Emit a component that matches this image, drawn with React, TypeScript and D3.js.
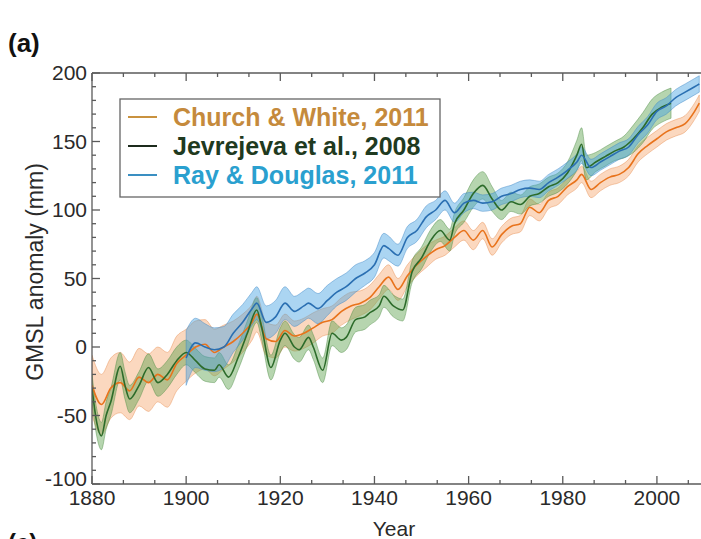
import React, { useEffect, useRef } from 'react';
import * as d3 from 'd3';

// [year, mean GMSL (mm), half-width of the uncertainty band (mm)]
type Pt = [number, number, number];

const churchWhite: Pt[] = [
  [1880, -28, 22], [1882, -42, 22], [1884, -30, 22], [1886, -26, 22], [1888, -32, 21],
  [1890, -22, 21], [1892, -26, 21], [1894, -20, 20], [1896, -24, 20], [1898, -12, 20],
  [1900, -6, 19], [1902, 0, 19], [1904, 2, 18], [1906, -4, 17], [1908, 0, 16],
  [1910, 4, 15], [1912, 10, 14], [1914, 18, 13], [1915, 24, 13], [1917, 6, 12],
  [1919, 4, 12], [1921, 12, 12], [1923, 8, 11], [1925, 10, 11], [1927, 14, 11],
  [1929, 18, 10], [1931, 20, 10], [1933, 26, 10], [1935, 30, 10], [1937, 32, 9],
  [1939, 36, 9], [1941, 44, 9], [1943, 51, 9], [1945, 42, 8], [1947, 52, 8],
  [1949, 60, 8], [1951, 66, 8], [1953, 71, 7], [1955, 74, 7], [1957, 80, 7],
  [1959, 85, 7], [1961, 78, 7], [1963, 85, 6], [1965, 73, 6], [1967, 82, 6],
  [1969, 88, 6], [1971, 90, 6], [1973, 102, 6], [1975, 98, 6], [1977, 107, 6],
  [1979, 110, 6], [1981, 117, 6], [1983, 122, 6], [1984, 126, 6], [1986, 115, 6],
  [1988, 120, 6], [1990, 124, 6], [1992, 126, 6], [1994, 131, 6], [1996, 141, 6],
  [1998, 147, 6], [2000, 152, 6], [2002, 157, 6], [2004, 160, 6], [2006, 163, 6],
  [2008, 172, 6], [2009, 178, 6],
];

const jevrejeva: Pt[] = [
  [1880, -30, 10], [1881, -55, 10], [1882, -65, 10], [1883, -50, 10], [1884, -40, 10],
  [1886, -14, 10], [1887, -28, 10], [1888, -38, 10], [1890, -28, 10], [1892, -15, 10],
  [1894, -26, 10], [1896, -20, 10], [1898, -10, 10], [1900, -4, 9], [1902, -10, 9],
  [1904, -16, 9], [1906, -17, 9], [1907, -13, 9], [1909, -22, 9], [1911, -8, 9],
  [1913, 10, 9], [1915, 27, 9], [1916, 15, 9], [1918, -15, 9], [1920, 5, 9],
  [1921, 10, 9], [1923, 0, 9], [1924, -2, 9], [1926, 7, 9], [1927, 0, 9],
  [1929, -17, 9], [1931, 10, 9], [1933, 5, 9], [1934, 7, 9], [1936, 20, 9],
  [1938, 22, 9], [1939, 25, 9], [1941, 30, 8], [1942, 37, 8], [1944, 30, 8],
  [1946, 27, 8], [1948, 55, 8], [1950, 65, 8], [1952, 78, 8], [1954, 85, 8],
  [1956, 78, 8], [1957, 90, 8], [1959, 100, 9], [1961, 112, 10], [1963, 118, 10],
  [1965, 108, 9], [1967, 100, 7], [1969, 106, 7], [1971, 104, 7], [1973, 110, 7],
  [1975, 112, 7], [1977, 117, 7], [1979, 120, 7], [1981, 127, 8], [1983, 140, 11],
  [1984, 148, 12], [1985, 131, 9], [1987, 135, 7], [1989, 139, 7], [1991, 143, 7],
  [1993, 146, 8], [1995, 152, 10], [1997, 160, 11], [1999, 170, 11], [2001, 175, 11],
  [2003, 178, 11],
];

const rayDouglas: Pt[] = [
  [1900, -8, 20], [1902, 3, 18], [1904, 0, 17], [1906, -2, 16], [1908, 0, 15],
  [1910, 10, 14], [1912, 18, 13], [1914, 28, 12], [1915, 32, 12], [1917, 18, 12],
  [1919, 22, 12], [1921, 32, 12], [1923, 26, 11], [1925, 30, 11], [1926, 32, 11],
  [1928, 28, 11], [1930, 34, 11], [1932, 40, 10], [1934, 44, 10], [1936, 50, 10],
  [1938, 54, 9], [1940, 60, 9], [1942, 74, 9], [1943, 72, 9], [1945, 67, 8],
  [1947, 80, 8], [1949, 85, 8], [1951, 95, 8], [1953, 100, 7], [1955, 107, 7],
  [1957, 98, 7], [1959, 105, 7], [1961, 107, 6], [1963, 105, 6], [1965, 106, 6],
  [1967, 110, 6], [1969, 112, 6], [1971, 115, 6], [1973, 116, 6], [1975, 115, 6],
  [1977, 120, 6], [1979, 124, 6], [1981, 129, 6], [1983, 135, 6], [1984, 140, 6],
  [1986, 131, 6], [1988, 135, 6], [1990, 139, 6], [1992, 143, 6], [1994, 146, 6],
  [1996, 155, 6], [1998, 162, 6], [2000, 172, 6], [2002, 176, 6], [2004, 182, 6],
  [2006, 186, 6], [2008, 190, 6], [2009, 192, 6],
];

const xTicks = [1880, 1900, 1920, 1940, 1960, 1980, 2000];
const yTicks = [-100, -50, 0, 50, 100, 150, 200];
const legendLabels = ['Church & White, 2011', 'Jevrejeva et al., 2008', 'Ray & Douglas, 2011'];

const series = [
  { data: churchWhite, line: '#e8731c', band: '#f6a870', edge: '#e58a4c', key: '#c9923f', text: '#c58a3c' },
  { data: jevrejeva, line: '#2c6b2a', band: '#5ea24e', edge: '#4a8a40', key: '#1d2b1d', text: '#1f3a20' },
  { data: rayDouglas, line: '#2a6fb2', band: '#44a2e2', edge: '#3a84c4', key: '#3a8fc2', text: '#2aa0cf' },
];

const FONT = '"Liberation Sans", Arial, sans-serif';

const App = () => {
  const svgRef = useRef<SVGSVGElement>(null);

  useEffect(() => {
    const svg = d3.select(svgRef.current);
    svg.selectAll('*').remove();

    const x = d3.scaleLinear().domain([1880, 2010]).range([92, 704]);
    const y = d3.scaleLinear().domain([-100, 200]).range([484, 73]);

    svg.append('rect').attr('width', 701).attr('height', 539).attr('fill', '#fff');

    svg.append('defs').append('clipPath').attr('id', 'plotArea')
      .append('rect')
      .attr('x', x(1880)).attr('y', y(200))
      .attr('width', x(2010) - x(1880)).attr('height', y(-100) - y(200));

    const plot = svg.append('g').attr('clip-path', 'url(#plotArea)');

    // uncertainty bands
    series.forEach(s => {
      plot.append('path')
        .datum(s.data)
        .attr('fill', s.band)
        .attr('fill-opacity', 0.45)
        .attr('stroke', s.edge)
        .attr('stroke-opacity', 0.55)
        .attr('stroke-width', 0.8)
        .attr('d', d3.area<Pt>()
          .x(d => x(d[0]))
          .y0(d => y(d[1] - d[2]))
          .y1(d => y(d[1] + d[2]))
          .curve(d3.curveMonotoneX));
    });

    // central lines
    series.forEach(s => {
      plot.append('path')
        .datum(s.data)
        .attr('fill', 'none')
        .attr('stroke', s.line)
        .attr('stroke-width', 1.6)
        .attr('d', d3.line<Pt>()
          .x(d => x(d[0]))
          .y(d => y(d[1]))
          .curve(d3.curveMonotoneX));
    });

    // frame + ticks (inward)
    const axisColor = '#5a5a5a';
    const frame = svg.append('g').attr('stroke', axisColor).attr('stroke-width', 1.3);
    frame.append('line').attr('x1', x(1880)).attr('x2', x(2010)).attr('y1', y(-100)).attr('y2', y(-100));
    frame.append('line').attr('x1', x(1880)).attr('x2', x(2010)).attr('y1', y(200)).attr('y2', y(200));
    frame.append('line').attr('x1', x(1880)).attr('x2', x(1880)).attr('y1', y(200)).attr('y2', y(-100));

    const xMinor = d3.range(0, 20).map(i => 1880 + (i * 20) / 3).filter(v => v <= 2010);
    xMinor.forEach(v => {
      const major = Math.abs((v - 1880) % 20) < 1e-6;
      const len = major ? 8 : 4;
      frame.append('line').attr('x1', x(v)).attr('x2', x(v)).attr('y1', y(-100)).attr('y2', y(-100) - len);
      frame.append('line').attr('x1', x(v)).attr('x2', x(v)).attr('y1', y(200)).attr('y2', y(200) + len);
    });
    d3.range(-100, 201, 10).forEach(v => {
      const len = v % 50 === 0 ? 8 : 4;
      frame.append('line').attr('x1', x(1880)).attr('x2', x(1880) + len).attr('y1', y(v)).attr('y2', y(v));
    });

    // tick labels
    svg.append('g').selectAll('text').data(xTicks).enter().append('text')
      .attr('x', d => x(d)).attr('y', y(-100) + 21)
      .attr('text-anchor', 'middle')
      .style('font-family', FONT).style('font-size', '21px').attr('fill', '#2a2a2a')
      .text(d => d);
    svg.append('g').selectAll('text').data(yTicks).enter().append('text')
      .attr('x', x(1880) - 5).attr('y', d => y(d) + (d === -100 ? -5 : 0))
      .attr('dy', '0.35em')
      .attr('text-anchor', 'end')
      .style('font-family', FONT).style('font-size', '21px').attr('fill', '#2a2a2a')
      .text(d => d);

    // axis titles
    svg.append('text')
      .attr('x', 394).attr('y', 536)
      .attr('text-anchor', 'middle')
      .style('font-family', FONT).style('font-size', '21px').attr('fill', '#2a2a2a')
      .text('Year');
    svg.append('text')
      .attr('transform', 'translate(43,272) rotate(-90)')
      .attr('text-anchor', 'middle')
      .style('font-family', FONT).style('font-size', '23px').attr('fill', '#2a2a2a')
      .text('GMSL anomaly (mm)');

    // panel letters
    svg.append('text').attr('x', 8).attr('y', 52)
      .style('font-family', FONT).style('font-size', '26px').style('font-weight', 'bold').attr('fill', '#111')
      .text('(a)');
    svg.append('text').attr('x', 8).attr('y', 551)
      .style('font-family', FONT).style('font-size', '24px').style('font-weight', 'bold').attr('fill', '#111')
      .text('(c)');

    // legend
    const legend = svg.append('g');
    legend.append('rect')
      .attr('x', 120).attr('y', 99).attr('width', 320).attr('height', 98)
      .attr('fill', '#fff').attr('stroke', '#666').attr('stroke-width', 1.3);
    const rows = legend.selectAll('.legend').data(series).enter().append('g')
      .attr('class', 'legend')
      .attr('transform', (d, i) => `translate(0,${117 + i * 29})`);
    rows.append('line')
      .attr('x1', 128).attr('x2', 157).attr('y1', 0).attr('y2', 0)
      .attr('stroke', d => d.key).attr('stroke-width', 2);
    rows.append('text')
      .attr('x', 173).attr('y', 0).attr('dy', '0.35em')
      .style('font-family', FONT).style('font-size', '25px').style('font-weight', 'bold')
      .attr('fill', d => d.text)
      .text((d, i) => legendLabels[i]);
  }, []);

  return <svg ref={svgRef} width={701} height={539} style={{ position: 'absolute', left: 0, top: 0 }} />;
};

export default App;
